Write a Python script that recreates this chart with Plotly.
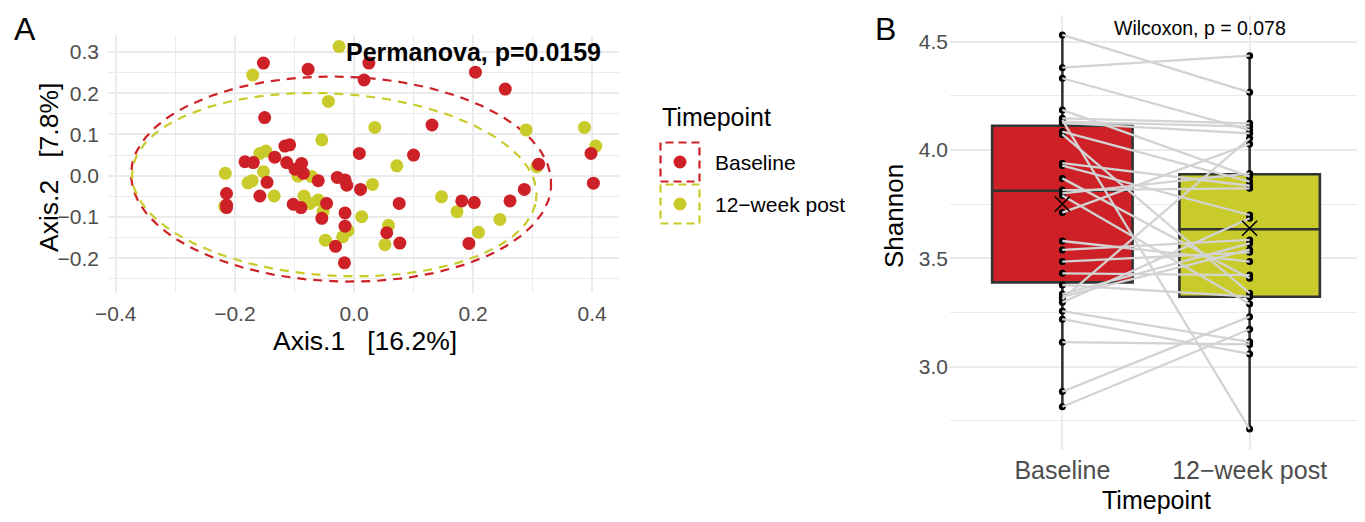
import numpy as np
import plotly.graph_objects as go

# ---------------- Panel A data (PCoA) ----------------
baseline_ax1 = [-0.152, -0.077, 0.025, 0.017, -0.150, -0.116, -0.108, 0.009, -0.183, -0.169,
                -0.133, -0.113, -0.088, -0.099, -0.085, -0.146, -0.158, -0.214, -0.214, -0.214,
                -0.060, -0.028, -0.015, -0.012, 0.011, -0.102, -0.089, -0.046, -0.054, -0.015,
                -0.015, -0.031, -0.016, 0.055, 0.077, 0.100, 0.310, 0.398, 0.402, 0.076,
                0.181, 0.202, 0.262, 0.286, 0.193, 0.204, 0.254, 0.131]
baseline_ax2 = [0.273, 0.258, 0.273, 0.232, 0.141, 0.072, 0.075, 0.054, 0.034, 0.032,
                0.045, 0.032, 0.030, 0.016, 0.006, -0.016, -0.049, -0.043, -0.071, -0.077,
                -0.012, -0.004, -0.010, -0.023, -0.033, -0.069, -0.077, -0.067, -0.103, -0.090,
                -0.122, -0.171, -0.211, -0.138, -0.163, 0.050, 0.028, 0.054, -0.018, -0.067,
                -0.061, -0.065, -0.061, -0.033, -0.164, 0.251, 0.210, 0.123]
post_ax1 = [-0.025, -0.170, -0.043, 0.035, -0.054, -0.158, -0.148, -0.094, -0.216, -0.178,
            -0.171, -0.152, -0.134, -0.217, -0.071, 0.031, -0.084, -0.074, -0.060, -0.052,
            -0.010, -0.019, 0.013, -0.048, 0.052, 0.058, 0.072, 0.307, 0.147, 0.173,
            0.245, 0.209, 0.289, 0.387, 0.406]
post_ax2 = [0.313, 0.244, 0.180, 0.117, 0.087, 0.054, 0.060, -0.001, 0.006, -0.017,
            -0.012, 0.010, -0.049, -0.074, -0.002, -0.021, -0.049, -0.067, -0.059, -0.087,
            -0.133, -0.148, -0.099, -0.156, -0.167, -0.120, 0.024, 0.022, -0.051, -0.087,
            -0.106, -0.137, 0.111, 0.117, 0.072]

# 95% ellipse parameters: centre x, centre y, semi-axis a, semi-axis b, angle (rad)
baseline_ellipse = [-0.0215, -0.008, 0.353, 0.248, -0.06]
post_ellipse = [-0.033, -0.0215, 0.341, 0.220, -0.12]

# ---------------- Panel B data (Shannon, paired) ----------------
groups = ["Baseline", "12\u2212week post"]
shannon_baseline = [4.531, 4.380, 4.331, 4.185, 4.146, 4.138, 4.131, 4.125, 4.085, 4.072,
                    3.939, 3.928, 3.869, 3.815, 3.800, 3.790, 3.711, 3.580, 3.539, 3.485,
                    3.431, 3.377, 3.335, 3.323, 3.312, 3.297, 3.257, 3.219, 3.113, 2.885, 2.815]
shannon_post = [4.266, 4.435, 4.092, 3.877, 4.123, 2.712, 4.108, 4.077, 3.854, 3.339,
                3.835, 3.700, 3.408, 3.823, 3.892, 3.289, 4.028, 3.485, 3.585, 3.528,
                3.423, 3.323, 3.569, 3.540, 4.054, 3.685, 3.115, 3.059, 3.103, 3.231, 3.173]
# box statistics: [Baseline, 12-week post]
box_q1 = [3.389, 3.323]
box_median = [3.812, 3.634]
box_q3 = [4.112, 3.888]
box_low = [2.815, 2.712]
box_high = [4.531, 4.435]
box_mean = [3.751, 3.639]

RED = "#CD2027"
YEL = "#C9CB2A"
FONT = "Liberation Sans, Arial, sans-serif"
# the page body has an 8px margin; size the figure so it fills the 1365x522 window
OFF = 8
W, H = 1365 - OFF, 522 - OFF

fig = go.Figure()


def ellipse_xy(p, n=200):
    cx, cy, a, b, th = p
    t = np.linspace(0, 2 * np.pi, n)
    x = cx + a * np.cos(th) * np.cos(t) - b * np.sin(th) * np.sin(t)
    y = cy + a * np.sin(th) * np.cos(t) + b * np.cos(th) * np.sin(t)
    return x, y


for p, col in [(baseline_ellipse, RED), (post_ellipse, YEL)]:
    ex, ey = ellipse_xy(p)
    fig.add_trace(go.Scatter(x=ex, y=ey, mode="lines", line=dict(color=col, width=2.2, dash="9px,7px"),
                             hoverinfo="skip", showlegend=False, xaxis="x", yaxis="y"))

fig.add_trace(go.Scatter(x=post_ax1, y=post_ax2, mode="markers", name="12\u2212week post",
                         marker=dict(color=YEL, size=13, line=dict(width=0)), showlegend=False,
                         xaxis="x", yaxis="y"))
fig.add_trace(go.Scatter(x=baseline_ax1, y=baseline_ax2, mode="markers", name="Baseline",
                         marker=dict(color=RED, size=13, line=dict(width=0)), showlegend=False,
                         xaxis="x", yaxis="y"))

# ---- Panel B ----
for i, (g, col) in enumerate(zip(groups, [RED, YEL])):
    fig.add_trace(go.Box(x=[g], q1=[box_q1[i]], median=[box_median[i]], q3=[box_q3[i]],
                         lowerfence=[box_low[i]], upperfence=[box_high[i]],
                         fillcolor=col, line=dict(color="#333333", width=2.6), whiskerwidth=0,
                         width=0.75, boxpoints=False, showlegend=False, hoverinfo="skip",
                         xaxis="x2", yaxis="y2"))

# paired points
fig.add_trace(go.Scatter(x=[groups[0]] * len(shannon_baseline) + [groups[1]] * len(shannon_post),
                         y=shannon_baseline + shannon_post, mode="markers",
                         marker=dict(color="black", size=7), showlegend=False,
                         xaxis="x2", yaxis="y2"))
lx, ly = [], []
for b, p in zip(shannon_baseline, shannon_post):
    lx += [groups[0], groups[1], None]
    ly += [b, p, None]
fig.add_trace(go.Scatter(x=lx, y=ly, mode="lines", line=dict(color="#D3D3D3", width=2.3),
                         showlegend=False, hoverinfo="skip", connectgaps=False,
                         xaxis="x2", yaxis="y2"))
fig.add_trace(go.Scatter(x=groups, y=box_mean, mode="markers",
                         marker=dict(symbol="x-thin-open", size=15, color="black",
                                     line=dict(color="black", width=1.6)),
                         showlegend=False, xaxis="x2", yaxis="y2"))

# ---- axes ----
grid = "#EBEBEB"
tickfont = dict(family=FONT, size=21, color="#4D4D4D")


def px_x(px):
    return (px - OFF) / W


def px_y(py):
    return 1 - (py - OFF) / H


fig.update_layout(
    width=W, height=H, margin=dict(l=0, r=0, t=0, b=0, autoexpand=False),
    paper_bgcolor="white", plot_bgcolor="white", showlegend=False,
    font=dict(family=FONT, color="black"),
    xaxis=dict(domain=[px_x(108), px_x(619)], range=[-0.413, 0.445], anchor="y", automargin=False,
               tickvals=[-0.4, -0.2, 0.0, 0.2, 0.4], tickformat=".1f",
               showgrid=True, gridcolor=grid, gridwidth=1.8, zeroline=False, showline=False,
               ticks="", ticklabelstandoff=6, tickfont=tickfont,
               minor=dict(tickvals=[-0.3, -0.1, 0.1, 0.3], showgrid=True, gridcolor=grid, gridwidth=0.9)),
    yaxis=dict(domain=[px_y(293), px_y(35)], range=[-0.284, 0.341], anchor="x", automargin=False,
               tickvals=[-0.2, -0.1, 0.0, 0.1, 0.2, 0.3], tickformat=".1f",
               showgrid=True, gridcolor=grid, gridwidth=1.8, zeroline=False, showline=False,
               ticks="", ticklabelstandoff=8, tickfont=tickfont,
               minor=dict(tickvals=[-0.25, -0.15, -0.05, 0.05, 0.15, 0.25], showgrid=True,
                          gridcolor=grid, gridwidth=0.9)),
    xaxis2=dict(domain=[px_x(950), px_x(1362)], range=[-0.6, 1.6], anchor="y2", automargin=False,
                type="category", categoryorder="array", categoryarray=groups,
                showgrid=True, gridcolor=grid, gridwidth=1.8, zeroline=False, showline=False,
                ticks="", ticklabelstandoff=3, tickfont=dict(family=FONT, size=25, color="#4D4D4D")),
    yaxis2=dict(domain=[px_y(449.7), px_y(15.2)], range=[2.617, 4.622], anchor="x2", automargin=False,
                tickvals=[3.0, 3.5, 4.0, 4.5], tickformat=".1f",
                showgrid=True, gridcolor=grid, gridwidth=1.8, zeroline=False, showline=False,
                ticks="", ticklabelstandoff=1, tickfont=tickfont,
                minor=dict(tickvals=[2.75, 3.25, 3.75, 4.25], showgrid=True, gridcolor=grid, gridwidth=0.9)),
)

ann = []
ann.append(dict(text="A", x=px_x(25), y=px_y(29), xref="paper", yref="paper", showarrow=False,
                font=dict(family=FONT, size=32, color="black"), xanchor="center", yanchor="middle"))
ann.append(dict(text="B", x=px_x(885), y=px_y(29), xref="paper", yref="paper", showarrow=False,
                font=dict(family=FONT, size=32, color="black"), xanchor="center", yanchor="middle"))
ann.append(dict(text="<b>Permanova, p=0.0159</b>", x=0.2, y=0.3, xref="x", yref="y", showarrow=False,
                font=dict(family=FONT, size=25, color="black"), xanchor="center", yanchor="middle"))
ann.append(dict(text="Axis.1   [16.2%]", x=px_x(365), y=px_y(341), xref="paper", yref="paper",
                showarrow=False, font=dict(family=FONT, size=26.5, color="black"),
                xanchor="center", yanchor="middle"))
ann.append(dict(text="Axis.2   [7.8%]", x=px_x(49), y=px_y(168), xref="paper", yref="paper",
                showarrow=False, textangle=-90, font=dict(family=FONT, size=26.5, color="black"),
                xanchor="center", yanchor="middle"))
ann.append(dict(text="Wilcoxon, p = 0.078", x=px_x(1200), y=px_y(28), xref="paper", yref="paper",
                showarrow=False, font=dict(family=FONT, size=19.5, color="black"),
                xanchor="center", yanchor="middle"))
ann.append(dict(text="Shannon", x=px_x(894), y=px_y(216), xref="paper", yref="paper",
                showarrow=False, textangle=-90, font=dict(family=FONT, size=26, color="black"),
                xanchor="center", yanchor="middle"))
ann.append(dict(text="Timepoint", x=px_x(1156), y=px_y(500), xref="paper", yref="paper",
                showarrow=False, font=dict(family=FONT, size=25, color="black"),
                xanchor="center", yanchor="middle"))
# legend
ann.append(dict(text="Timepoint", x=px_x(660), y=px_y(117), xref="paper", yref="paper",
                showarrow=False, font=dict(family=FONT, size=25, color="black"),
                xanchor="left", yanchor="middle"))
legend_items = [("Baseline", RED, 162), ("12\u2212week post", YEL, 204)]
shapes = []
for lab, col, cy in legend_items:
    ann.append(dict(text=lab, x=px_x(713), y=px_y(cy), xref="paper", yref="paper", showarrow=False,
                    font=dict(family=FONT, size=21, color="black"), xanchor="left", yanchor="middle"))
    shapes.append(dict(type="rect", xref="paper", yref="paper", xsizemode="pixel", ysizemode="pixel",
                       xanchor=px_x(680), yanchor=px_y(cy), x0=-19.5, x1=19.5, y0=-19.5, y1=19.5,
                       line=dict(color=col, width=2.2, dash="8px,5px"), fillcolor="rgba(0,0,0,0)"))
    shapes.append(dict(type="circle", xref="paper", yref="paper", xsizemode="pixel", ysizemode="pixel",
                       xanchor=px_x(680), yanchor=px_y(cy), x0=-6.5, x1=6.5, y0=-6.5, y1=6.5,
                       line=dict(width=0), fillcolor=col))
fig.update_layout(annotations=ann, shapes=shapes)

fig.write_html("out.html")
